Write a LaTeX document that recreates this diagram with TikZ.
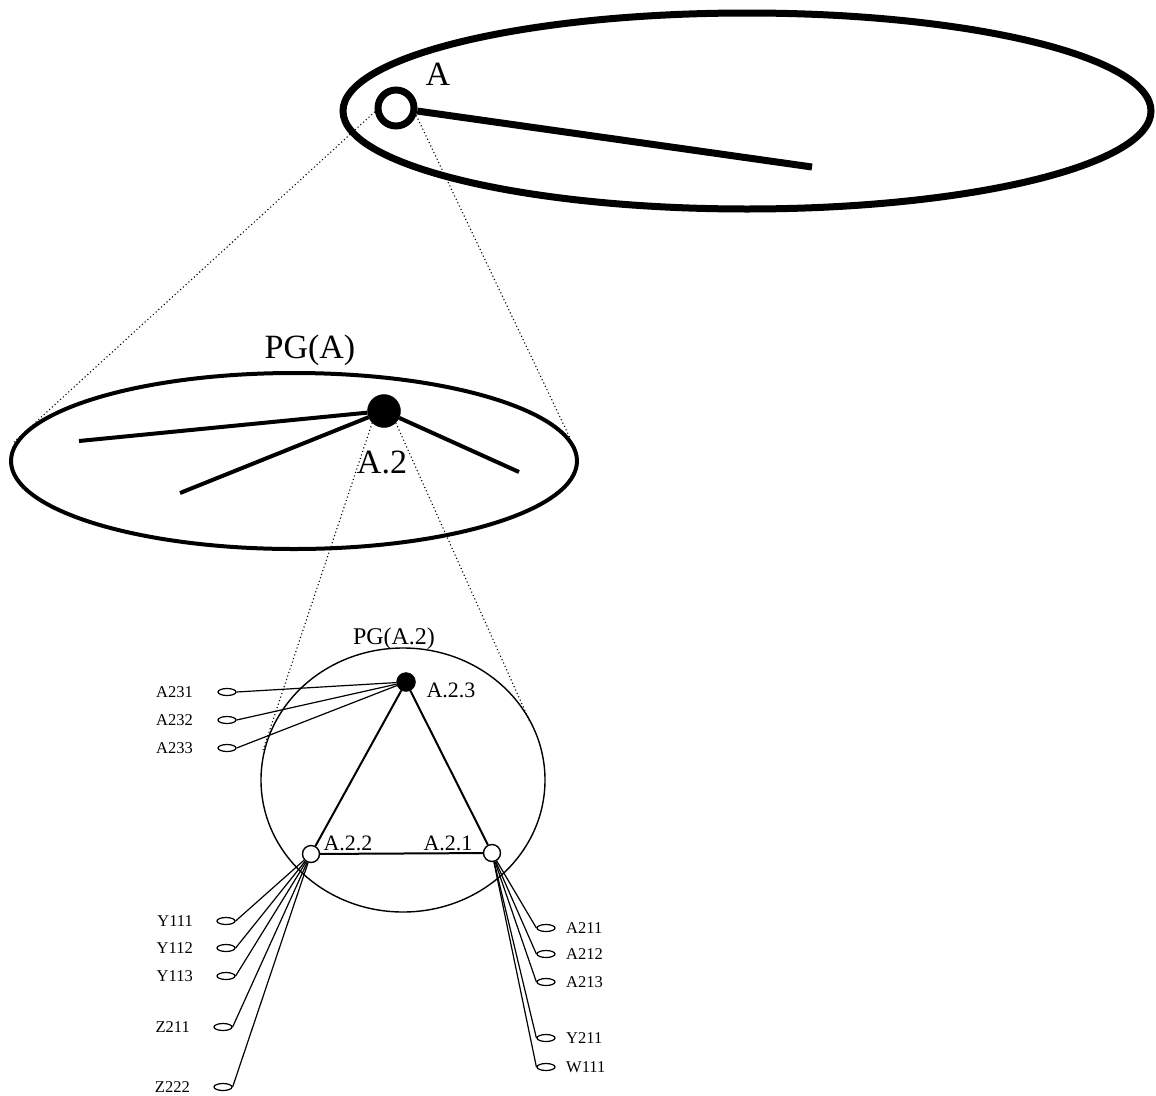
\documentclass[tikz,border=0pt]{standalone}
\usepackage{fontspec}
\setmainfont{Liberation Serif}
\usetikzlibrary{shapes.geometric}
\tikzset{
  bigtext/.style={inner sep=0pt, font=\fontsize{34}{36}\selectfont},
  midtext/.style={inner sep=0pt, font=\fontsize{22}{24}\selectfont},
  leaftext/.style={inner sep=0pt, font=\fontsize{16.5}{18}\selectfont},
  leaf/.style={draw, ellipse, line width=1.2pt, minimum width=18pt, minimum height=7pt, inner sep=0pt},
  zoomline/.style={line width=1.1pt, dash pattern=on 1.1pt off 2.6pt},
}
\begin{document}
\begin{tikzpicture}[x=1pt, y=-1pt]
\useasboundingbox (0,0) rectangle (1156,1095);
% level 0
\draw[line width=7pt] (747,111) ellipse [x radius=404, y radius=98];
\node[draw, circle, line width=7pt, minimum size=36pt, inner sep=0pt] (A) at (396,108) {};
\coordinate (Aend) at (812,167);
\draw[line width=7pt] (A) -- (Aend);
\node[bigtext] (Alabel) at (438,74) {A};
% level 1
\node[bigtext] (PGA) at (310,350) {PG(A)};
\draw[line width=4pt] (294,461) ellipse [x radius=283, y radius=88];
\node[draw, circle, fill, minimum size=33pt, inner sep=0pt] (A2) at (384,411) {};
\coordinate (e1) at (79,441);
\coordinate (e2) at (180,493);
\coordinate (e3) at (519,472);
\draw[line width=4pt] (A2) -- (e1);
\draw[line width=4pt] (A2) -- (e2);
\draw[line width=4pt] (A2) -- (e3);
\node[bigtext] (A2label) at (382,462) {A.2};
\coordinate (PGAl) at (14,442);
\coordinate (PGAr) at (570,438);
\draw[zoomline] (A.190) -- (PGAl);
\draw[zoomline] (A.-20) -- (PGAr);
% level 2
\node[midtext, font=\fontsize{24}{26}\selectfont] (PGA2) at (394,639) {PG(A.2)};
\draw[line width=1.4pt] (403,780) ellipse [x radius=142, y radius=132];
\coordinate (PGA2l) at (263,750);
\coordinate (PGA2r) at (530,722);
\draw[zoomline] (A2.south west) -- (PGA2l);
\draw[zoomline] (A2.south east) -- (PGA2r);
\node[draw, circle, fill, minimum size=19pt, inner sep=0pt] (A23) at (406,682) {};
\node[draw, circle, fill=white, line width=1.4pt, minimum size=17pt, inner sep=0pt] (A22) at (311,854) {};
\node[draw, circle, fill=white, line width=1.4pt, minimum size=17pt, inner sep=0pt] (A21) at (492,853) {};
\draw[line width=2pt] (A23) -- (A22) -- (A21) -- (A23);
\node[midtext] (A23label) at (451,690) {A.2.3};
\node[midtext] (A22label) at (348,843) {A.2.2};
\node[midtext] (A21label) at (448,843) {A.2.1};
% leaves of A.2.3
\foreach \n/\y in {A231/692, A232/720, A233/748} {
  \node[leaf] (\n) at (227,\y) {};
  \node[leaftext, anchor=east] at (193,\y) {\n};
  \draw[line width=1.2pt] (\n.east) -- (A23);
}
% leaves of A.2.2
\foreach \n/\y in {Y111/921, Y112/948, Y113/976} {
  \node[leaf] (\n) at (226,\y) {};
  \node[leaftext, anchor=east] at (193,\y) {\n};
  \draw[line width=1.2pt] (\n.east) -- (A22);
}
\foreach \n/\y in {Z211/1027, Z222/1087} {
  \node[leaf] (\n) at (223,\y) {};
  \node[leaftext, anchor=east] at (190,\y) {\n};
  \draw[line width=1.2pt] (\n.east) -- (A22);
}
% leaves of A.2.1
\foreach \n/\y in {A211/928, A212/954, A213/982, Y211/1038, W111/1067} {
  \node[leaf] (\n) at (546,\y) {};
  \node[leaftext, anchor=west] at (566,\y) {\n};
  \draw[line width=1.2pt] (\n.west) -- (A21);
}
\end{tikzpicture}
\end{document}
